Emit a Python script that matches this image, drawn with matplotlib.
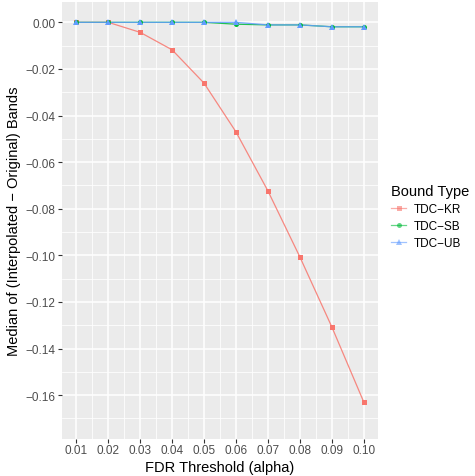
import matplotlib
matplotlib.use("Agg")
import matplotlib.pyplot as plt
from matplotlib.ticker import FixedLocator
from matplotlib.lines import Line2D

plt.rcParams['font.family'] = ['Liberation Sans', 'DejaVu Sans']

alpha_vals = [0.01, 0.02, 0.03, 0.04, 0.05, 0.06, 0.07, 0.08, 0.09, 0.10]
x_labels = ["0.01", "0.02", "0.03", "0.04", "0.05", "0.06", "0.07", "0.08", "0.09", "0.10"]
kr = [0.0, 0.0, -0.0043, -0.0118, -0.0261, -0.0470, -0.0723, -0.1006, -0.1306, -0.1628]
sb = [0.0, 0.0, 0.0, 0.0, 0.0, -0.0008, -0.0011, -0.0011, -0.0019, -0.0019]
ub = [0.0, 0.0, 0.0, 0.0, 0.0, 0.0, -0.0011, -0.0011, -0.0019, -0.0019]
series_names = ["TDC\u2212KR", "TDC\u2212SB", "TDC\u2212UB"]
colors = ["#F8766D", "#00BA38", "#619CFF"]
markers = ["s", "o", "^"]
y_ticks = [0.00, -0.02, -0.04, -0.06, -0.08, -0.10, -0.12, -0.14, -0.16]

W, H = 475, 477
fig = plt.figure(figsize=(W / 100, H / 100), dpi=100)
ax = fig.add_axes([62 / W, (H - 440) / H, (378 - 62) / W, (440 - 3.3) / H])
ax.set_facecolor("#EBEBEB")
for s in ax.spines.values():
    s.set_visible(False)

for vals, name, c, m in zip([kr, sb, ub], series_names, colors, markers):
    ax.plot(alpha_vals, vals, color=c, lw=0.9, alpha=0.85, zorder=3)
    ax.plot(alpha_vals, vals, linestyle="none", marker=m, color=c,
            markersize=3.6 if m != "^" else 4.2, markeredgewidth=0, zorder=4)

ax.set_xlim(0.01 - 0.0045, 0.10 + 0.0045)
ax.set_ylim(-0.1788, 0.0086)

ax.xaxis.set_major_locator(FixedLocator(alpha_vals))
ax.set_xticklabels(x_labels)
ax.xaxis.set_minor_locator(FixedLocator([a + 0.005 for a in alpha_vals[:-1]]))
ax.yaxis.set_major_locator(FixedLocator(y_ticks))
ax.set_yticklabels([("\u2212%.2f" % abs(v)) if v < 0 else "%.2f" % v for v in y_ticks])
ax.yaxis.set_minor_locator(FixedLocator([-0.01, -0.03, -0.05, -0.07, -0.09, -0.11, -0.13, -0.15, -0.17]))

ax.grid(which="major", color="white", lw=1.1, zorder=0)
ax.grid(which="minor", color="white", lw=0.55, zorder=0)
ax.set_axisbelow(True)

ax.tick_params(which="major", length=2.6, width=0.8, color="#333333",
               labelsize=8.45, labelcolor="#4D4D4D", pad=2)
ax.tick_params(axis="x", which="major", pad=1.2)
ax.tick_params(which="minor", length=0)

ax.set_xlabel("FDR Threshold (alpha)", fontsize=10.56, color="black", labelpad=3)
ax.set_ylabel("Median of (Interpolated \u2212 Original) Bands", fontsize=10.56,
              color="black", labelpad=3)

handles = [Line2D([], [], color=c, lw=0.9, alpha=0.6, marker=m,
                  markersize=3.6 if m != "^" else 4.2, markeredgewidth=0)
           for c, m in zip(colors, markers)]
leg = fig.legend(handles, series_names, loc="upper left",
                 bbox_to_anchor=(391 / W, 1 - 185 / H), frameon=False,
                 title="Bound Type", fontsize=8.45, title_fontsize=10.56,
                 handlelength=1.3, handletextpad=0.6, labelspacing=0.42,
                 borderpad=0, borderaxespad=0, alignment="left")

fig.savefig("out.png", dpi=100)
